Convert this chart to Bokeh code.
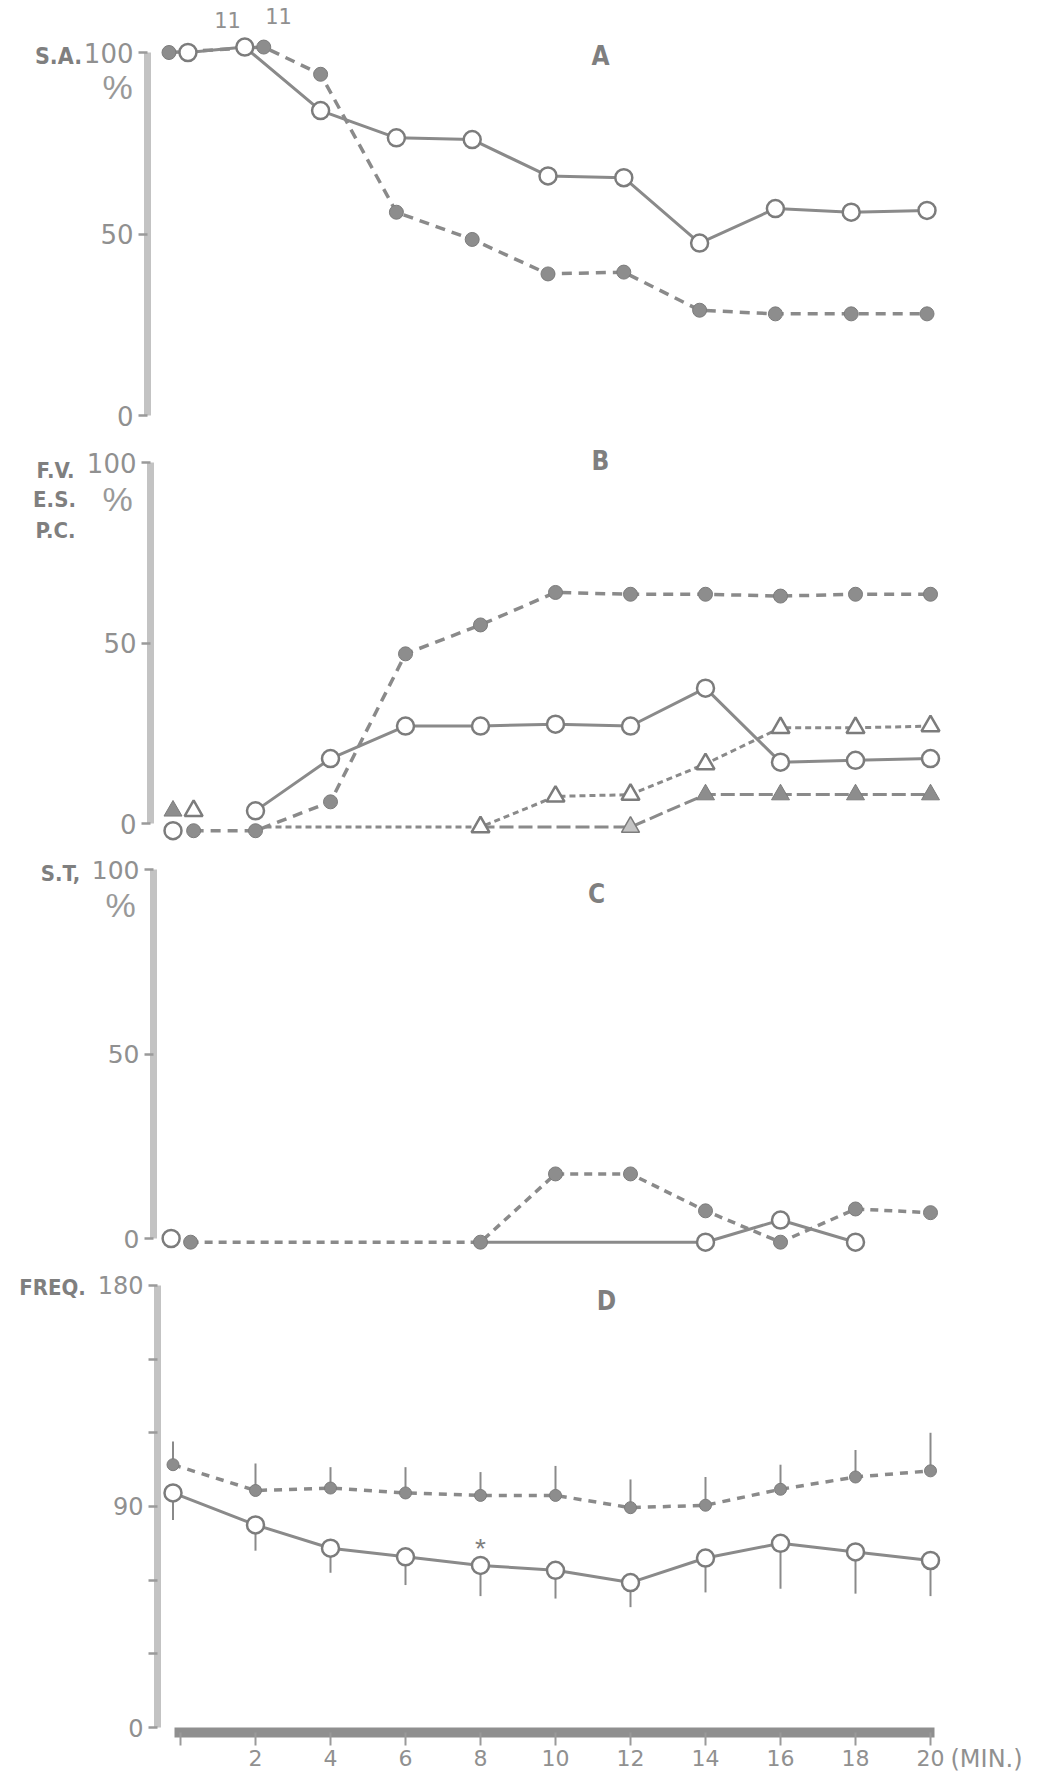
from bokeh.plotting import figure
from bokeh.layouts import column
from bokeh.models import Label, FixedTicker, Range1d
from bokeh.embed import file_html
from bokeh.resources import INLINE

# ---------------- data ----------------
x_ticks = [0, 2, 4, 6, 8, 10, 12, 14, 16, 18, 20]
x_tick_labels = {0: ""}

# A : S.A. (%)
a_open_x = [0.5, 2, 4, 6, 8, 10, 12, 14, 16, 18, 20]
a_open_y = [100, 101.5, 84, 76.5, 76, 66, 65.5, 47.5, 57, 56, 56.5]
a_fill_x = [0, 2.5, 4, 6, 8, 10, 12, 14, 16, 18, 20]
a_fill_y = [100, 101.5, 94, 56, 48.5, 39, 39.5, 29, 28, 28, 28]
a_n_labels = ["11", "11"]

# B : F.V. / E.S. / P.C. (%)
b_open_x = [-0.2, 2, 4, 6, 8, 10, 12, 14, 16, 18, 20]
b_open_y = [-2, 3.5, 18, 27, 27, 27.5, 27, 37.5, 17, 17.5, 18]
b_fill_x = [0.35, 2, 4, 6, 8, 10, 12, 14, 16, 18, 20]
b_fill_y = [-2, -2, 6, 47, 55, 64, 63.5, 63.5, 63, 63.5, 63.5]
b_otri_x = [0.35, 2, 4, 6, 8, 10, 12, 14, 16, 18, 20]
b_otri_y = [3.5, -1, -1, -1, -1, 7.5, 8, 16.5, 26.5, 26.5, 27]
b_ftri_x = [-0.2, 8, 10, 12, 14, 16, 18, 20]
b_ftri_y = [3.5, -1, -1, -1, 8, 8, 8, 8]

# C : S.T. (%)
c_open_x = [-0.25, 8, 10, 12, 14, 16, 18]
c_open_y = [0, -1, -1, -1, -1, 5, -1]
c_fill_x = [0.27, 2, 4, 6, 8, 10, 12, 14, 16, 18, 20]
c_fill_y = [-1, -1, -1, -1, -1, 17.5, 17.5, 7.5, -1, 8, 7]

# D : FREQ. (mean with one-sided SD bar)
d_x = [-0.2, 2, 4, 6, 8, 10, 12, 14, 16, 18, 20]
d_fill_mean = [107, 96.5, 97.5, 95.5, 94.5, 94.5, 89.5, 90.5, 97, 102, 104.5]
d_fill_sd = [9.5, 11, 8.5, 10.5, 9.5, 12, 11.5, 11.5, 10, 11, 15.5]
d_open_mean = [95.5, 82.5, 73, 69.5, 66, 64, 59, 69, 75, 71.5, 68]
d_open_sd = [11, 10.5, 10, 11.5, 12.5, 11.5, 10, 14, 18.5, 17, 14.5]
d_star_minute = 8

# ---------------- styling ----------------
LINE = "#8a8a8a"
MK = "#7c7c7c"
FILL = "#8d8d8d"
TXT = "#909090"
AXIS = "#c3c3c3"
COND = "Liberation Sans Narrow, DejaVu Sans Condensed, Roboto Condensed, Liberation Sans, sans-serif"
NUM = "DejaVu Sans, Liberation Sans, sans-serif"
PLAIN = "Liberation Sans, Arial, sans-serif"
W = 1040
ORIGIN = 0  # the page's canvas origin (the standalone template has no body margin)


class Cal:
    """page-pixel calibration of one hand-drawn panel"""
    def __init__(self, x0px, xs, y0px, ys):
        self.x0px, self.xs, self.y0px, self.ys = x0px, xs, y0px, ys

    def x(self, px):
        return (px - self.x0px) / self.xs

    def y(self, py):
        return (self.y0px - py) / self.ys


def panel(top, height, cal, axis_px, xaxis=False):
    # the frame covers the whole canvas; axes are pinned with fixed_location
    p = figure(width=W, height=height,
               x_range=Range1d(cal.x(ORIGIN), cal.x(ORIGIN + W)),
               y_range=Range1d(cal.y(top + height), cal.y(top)),
               output_backend="svg", toolbar_location=None,
               x_axis_location="below" if xaxis else None,
               y_axis_location="left",
               min_border_left=0, min_border_right=0,
               min_border_top=0, min_border_bottom=0)
    p.outline_line_color = None
    p.grid.visible = False
    p.background_fill_color = "white"
    p.border_fill_color = "white"
    p.yaxis[0].fixed_location = cal.x(axis_px)
    return p


def style_y(p, ticks, bounds, fs, overrides=None):
    ax = p.yaxis[0]
    ax.ticker = FixedTicker(ticks=ticks)
    ax.bounds = bounds
    ax.axis_line_width = 7
    ax.axis_line_color = AXIS
    ax.major_tick_out = 9
    ax.major_tick_in = 0
    ax.major_tick_line_width = 2.5
    ax.major_tick_line_color = "#9a9a9a"
    ax.minor_tick_line_color = None
    ax.major_label_text_font = NUM
    ax.major_label_text_font_size = f"{fs}px"
    ax.major_label_text_color = TXT
    ax.major_label_standoff = 5
    if overrides:
        ax.major_label_overrides = overrides


def txt(p, cal, px, py, text, size, font=COND, bold=True, align="center", color="#7f7f7f"):
    p.add_layout(Label(x=cal.x(px), y=cal.y(py), text=text, text_font=font,
                       text_font_size=f"{size}px", text_align=align,
                       text_baseline="middle", text_color=color,
                       text_font_style="bold" if bold else "normal"))


def open_c(p, x, y, size=17):
    p.scatter(x, y, marker="circle", size=size, fill_color="white", line_color=MK, line_width=2.5)


def fill_c(p, x, y, size=14):
    p.scatter(x, y, marker="circle", size=size, fill_color=FILL, line_color=MK, line_width=1)


# ---------------- panel A ----------------
calA = Cal(168.5, 37.9, 415, 3.63)
pA = panel(0, 438, calA, 147)
style_y(pA, [0, 50, 100], (0, 100), 26)
pA.line(a_fill_x, a_fill_y, line_color=LINE, line_width=3.5, line_dash="10 7")
pA.line(a_open_x, a_open_y, line_color=LINE, line_width=3)
fill_c(pA, a_fill_x, a_fill_y)
open_c(pA, a_open_x, a_open_y)
txt(pA, calA, 58, 55, "S.A.", 23)
txt(pA, calA, 117, 86, "%", 34, font=PLAIN, bold=False, color="#999999")
txt(pA, calA, 600, 55, "A", 26)
txt(pA, calA, 227, 19, a_n_labels[0], 21, font=NUM, bold=False, color=TXT)
txt(pA, calA, 278, 15, a_n_labels[1], 21, font=NUM, bold=False, color=TXT)

# ---------------- panel B ----------------
calB = Cal(180, 37.5, 823, 3.61)
pB = panel(438, 405, calB, 150)
style_y(pB, [0, 50, 100], (0, 100), 26)
pB.line(b_ftri_x[1:], b_ftri_y[1:], line_color=LINE, line_width=3, line_dash="14 5")
pB.line(b_otri_x[1:], b_otri_y[1:], line_color=LINE, line_width=3, line_dash="6 4")
pB.line(b_fill_x, b_fill_y, line_color=LINE, line_width=3.5, line_dash="10 7")
pB.line(b_open_x[1:], b_open_y[1:], line_color=LINE, line_width=3)
pB.scatter([b_ftri_x[0]] + b_ftri_x[4:], [b_ftri_y[0]] + b_ftri_y[4:], marker="triangle",
           size=18, fill_color=FILL, line_color=MK, line_width=1)
pB.scatter(b_ftri_x[3:4], b_ftri_y[3:4], marker="triangle", size=18,
           fill_color="#c4c4c4", line_color=MK, line_width=1.5)
pB.scatter([b_otri_x[0]] + b_otri_x[4:], [b_otri_y[0]] + b_otri_y[4:], marker="triangle",
           size=18, fill_color="white", line_color=MK, line_width=2.5)
fill_c(pB, b_fill_x, b_fill_y)
open_c(pB, b_open_x, b_open_y)
txt(pB, calB, 55, 470, "F.V.", 22)
txt(pB, calB, 54, 499, "E.S.", 22)
txt(pB, calB, 55, 530, "P.C.", 22)
txt(pB, calB, 117, 498, "%", 34, font=PLAIN, bold=False, color="#999999")
txt(pB, calB, 600, 460, "B", 26)

# ---------------- panel C ----------------
calC = Cal(180, 37.5, 1238, 3.69)
pC = panel(843, 418, calC, 153)
style_y(pC, [0, 50, 100], (0, 100), 25)
pC.line(c_fill_x, c_fill_y, line_color=LINE, line_width=3.5, line_dash="8 6")
pC.line(c_open_x[1:], c_open_y[1:], line_color=LINE, line_width=3)
fill_c(pC, [c_fill_x[0]] + c_fill_x[4:], [c_fill_y[0]] + c_fill_y[4:])
open_c(pC, [c_open_x[0]] + c_open_x[4:], [c_open_y[0]] + c_open_y[4:])
txt(pC, calC, 60, 873, "S.T,", 22)
txt(pC, calC, 120, 904, "%", 34, font=PLAIN, bold=False, color="#999999")
txt(pC, calC, 596, 893, "C", 26)

# ---------------- panel D ----------------
calD = Cal(180, 37.5, 1727, 2.456)
pD = panel(1261, 512, calD, 157, xaxis=True)
style_y(pD, [0, 30, 60, 90, 120, 150, 180], (0, 180), 24,
        overrides={30: "", 60: "", 120: "", 150: ""})
xa = pD.xaxis[0]
xa.fixed_location = calD.y(1732)
xa.ticker = FixedTicker(ticks=x_ticks)
xa.major_label_overrides = x_tick_labels
xa.bounds = (-0.15, 20.1)
xa.axis_line_width = 10
xa.axis_line_color = "#8f8f8f"
xa.major_tick_out = 13
xa.major_tick_in = 0
xa.major_tick_line_width = 2
xa.major_tick_line_color = "#9a9a9a"
xa.minor_tick_line_color = None
xa.major_label_text_font = NUM
xa.major_label_text_font_size = "22px"
xa.major_label_text_color = TXT
xa.major_label_standoff = 4

f_top = [m + s for m, s in zip(d_fill_mean, d_fill_sd)]
o_bot = [m - s for m, s in zip(d_open_mean, d_open_sd)]
pD.segment(d_x, d_fill_mean, d_x, f_top, line_color=LINE, line_width=2)
pD.segment(d_x, d_open_mean, d_x, o_bot, line_color=LINE, line_width=2)
pD.line(d_x, d_fill_mean, line_color=LINE, line_width=3.5, line_dash="8 7")
pD.line(d_x, d_open_mean, line_color=LINE, line_width=3)
fill_c(pD, d_x, d_fill_mean, size=12)
open_c(pD, d_x, d_open_mean, size=17)
star_i = d_x.index(d_star_minute)
pD.add_layout(Label(x=d_star_minute, y=d_open_mean[star_i], y_offset=17, text="*",
                    text_font=PLAIN, text_font_size="28px", text_align="center",
                    text_baseline="middle", text_color="#7f7f7f"))
txt(pD, calD, 52, 1287, "FREQ.", 22)
txt(pD, calD, 606, 1300, "D", 26)
txt(pD, calD, 950, 1758, "(MIN.)", 24, font=NUM, bold=False, align="left", color=TXT)

layout = column(pA, pB, pC, pD)
open("out.html", "w").write(file_html(layout, INLINE))
